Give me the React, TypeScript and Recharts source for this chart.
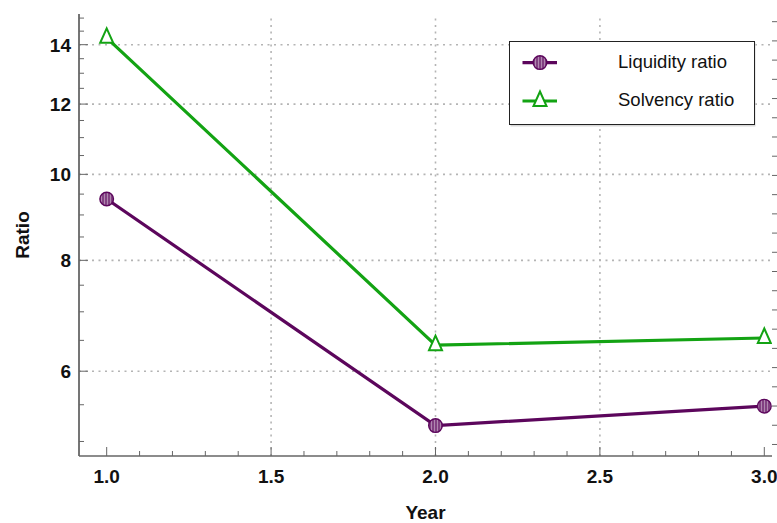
import React from 'react';
import { LineChart, Line, XAxis, YAxis, ReferenceLine, Legend } from 'recharts';

const years = [1, 2, 3];
const liquidity = [9.38, 5.21, 5.48];
const solvency = [14.25, 6.42, 6.54];

const xMajor = [1, 1.5, 2, 2.5, 3];
const xTicks = [1, 1.1, 1.2, 1.3, 1.4, 1.5, 1.6, 1.7, 1.8, 1.9, 2, 2.1, 2.2, 2.3, 2.4, 2.5, 2.6, 2.7, 2.8, 2.9, 3];
const xGrid = [1.5, 2, 2.5];
const yMajor = [6, 8, 10, 12, 14];
const yTicks = [5, 5.5, 6, 6.5, 7, 7.5, 8, 8.5, 9, 9.5, 10, 10.5, 11, 11.5, 12, 12.5, 13, 13.5, 14, 14.5, 15];
const rightTicks = [1, 2, 3, 4, 5, 6, 7, 8, 9, 10, 11, 12, 13, 14, 15, 16, 17, 18, 19, 20, 21, 22, 23];

const data = years.map((year, i) => ({ year, liquidity: liquidity[i], solvency: solvency[i] }));

const PURPLE = '#5c065c';
const GREEN = '#13a313';
const AXIS = '#666';
const FONT = '"Liberation Sans", Arial, sans-serif';

const isMajor = (list: number[], v: number) => list.some((m) => Math.abs(m - v) < 1e-6);

const BottomTick = (props: any) => {
  const { x, y, payload } = props;
  const major = isMajor(xMajor, payload.value);
  return (
    <g>
      <line x1={x} y1={y} x2={x} y2={y - (major ? 9 : 5)} stroke={AXIS} strokeWidth={1} />
      {major && (
        <text x={x} y={y + 27} textAnchor="middle" fontFamily={FONT} fontWeight="bold" fontSize={19} fill="#111">
          {payload.value.toFixed(1)}
        </text>
      )}
    </g>
  );
};

const TopTick = (props: any) => {
  const { x, y, payload } = props;
  const major = isMajor(xMajor, payload.value);
  return <line x1={x} y1={y} x2={x} y2={y + (major ? 9 : 5)} stroke={AXIS} strokeWidth={1} />;
};

const LeftTick = (props: any) => {
  const { x, y, payload } = props;
  const major = isMajor(yMajor, payload.value);
  return (
    <g>
      <line x1={x} y1={y} x2={x + (major ? 9 : 5)} y2={y} stroke={AXIS} strokeWidth={1} />
      {major && (
        <text x={x - 8} y={y} dy="0.36em" textAnchor="end" fontFamily={FONT} fontWeight="bold" fontSize={19} fill="#111">
          {payload.value}
        </text>
      )}
    </g>
  );
};

const RightTick = (props: any) => {
  const { x, y } = props;
  return <line x1={x} y1={y} x2={x + 5.5} y2={y} stroke={AXIS} strokeWidth={1} />;
};

const CircleDot = (props: any) => {
  const { cx, cy, index } = props;
  if (cx == null || cy == null) return <g key={index} />;
  return <circle key={index} cx={cx} cy={cy} r={6.8} fill="url(#hatch)" stroke={PURPLE} strokeWidth={1.4} />;
};

const triPath = (cx: number, cy: number) =>
  `M${cx},${cy - 9.5} L${cx - 6.5},${cy + 5} L${cx + 6.5},${cy + 5} Z`;

const TriangleDot = (props: any) => {
  const { cx, cy, index } = props;
  if (cx == null || cy == null) return <g key={index} />;
  return <path key={index} d={triPath(cx, cy)} fill="#fff" stroke={GREEN} strokeWidth={2} />;
};

const RatioLabel = (props: any) => {
  const { viewBox } = props;
  const cy = viewBox.y + viewBox.height / 2;
  return (
    <text
      x={29}
      y={cy}
      transform={`rotate(-90 29 ${cy})`}
      textAnchor="middle"
      fontFamily={FONT}
      fontWeight="bold"
      fontSize={19}
      fill="#111"
    >
      Ratio
    </text>
  );
};

const LegendBox = () => (
  <svg width={247} height={86} style={{ display: 'block' }}>
    <rect x={1.5} y={1.5} width={245} height={84} fill="#d8d8d8" />
    <rect x={0.5} y={0.5} width={245} height={83} fill="#fff" stroke="#222" strokeWidth={1} />
    <line x1={13.5} y1={21.6} x2={48} y2={21.6} stroke={PURPLE} strokeWidth={3.2} />
    <circle cx={31} cy={21.6} r={6.8} fill="url(#hatch)" stroke={PURPLE} strokeWidth={1.4} />
    <text x={109} y={26.5} fontFamily={FONT} fontSize={18.5} fill="#111">
      Liquidity ratio
    </text>
    <line x1={13.5} y1={60} x2={48} y2={60} stroke={GREEN} strokeWidth={3.2} />
    <path d={triPath(31, 60)} fill="#fff" stroke={GREEN} strokeWidth={2} />
    <text x={109} y={64.5} fontFamily={FONT} fontSize={18.5} fill="#111">
      Solvency ratio
    </text>
  </svg>
);

export default function App() {
  return (
    <div style={{ position: 'absolute', left: 0, top: 0, width: 777, height: 523, background: '#fff' }}>
      <LineChart width={777} height={523} data={data} margin={{ top: 14, right: 0, bottom: 0, left: 0 }}>
        <defs>
          <pattern id="hatch" width={3} height={3} patternUnits="userSpaceOnUse">
            <rect width={3} height={3} fill="#b087b0" />
            <line x1={1} y1={0} x2={1} y2={3} stroke={PURPLE} strokeWidth={1.1} />
          </pattern>
        </defs>
        <XAxis
          dataKey="year"
          type="number"
          domain={[0.9158, 3.0234]}
          allowDataOverflow
          ticks={xTicks}
          interval={0}
          tickSize={0}
          tickMargin={0}
          height={67}
          axisLine={{ stroke: AXIS, strokeWidth: 1.4 }}
          tick={<BottomTick />}
          label={{ value: 'Year', position: 'insideBottom', offset: 4, fontFamily: FONT, fontWeight: 'bold', fontSize: 19, fill: '#111' }}
        />
        <XAxis
          xAxisId="top"
          orientation="top"
          dataKey="year"
          type="number"
          domain={[0.9158, 3.0234]}
          allowDataOverflow
          ticks={xTicks}
          interval={0}
          tickSize={0}
          tickMargin={0}
          height={0}
          axisLine={{ stroke: '#444', strokeWidth: 1.2 }}
          tick={<TopTick />}
        />
        <YAxis
          type="number"
          scale="log"
          domain={[4.815, 15.16]}
          allowDataOverflow
          ticks={yTicks}
          interval={0}
          tickSize={0}
          tickMargin={0}
          width={79}
          axisLine={{ stroke: AXIS, strokeWidth: 1.8 }}
          tick={<LeftTick />}
          label={<RatioLabel />}
        />
        <YAxis
          yAxisId="r"
          orientation="right"
          type="number"
          domain={[0.4, 23.4]}
          allowDataOverflow
          ticks={rightTicks}
          interval={0}
          tickSize={0}
          tickMargin={0}
          width={5}
          axisLine={false}
          tick={<RightTick />}
        />
        {yMajor.map((v) => (
          <ReferenceLine key={'h' + v} y={v} stroke="#b4b4b4" strokeWidth={1.6} strokeDasharray="2 4.5" />
        ))}
        {xGrid.map((v) => (
          <ReferenceLine key={'v' + v} x={v} stroke="#b4b4b4" strokeWidth={1.6} strokeDasharray="2 4.5" />
        ))}
        <Legend
          layout="vertical"
          align="center"
          verticalAlign="middle"
          wrapperStyle={{ left: 509, top: 41, width: 247, height: 86 }}
          content={<LegendBox />}
        />
        <Line
          dataKey="liquidity"
          stroke={PURPLE}
          strokeWidth={3.2}
          dot={<CircleDot />}
          activeDot={false}
          isAnimationActive={false}
        />
        <Line
          dataKey="solvency"
          stroke={GREEN}
          strokeWidth={3.2}
          dot={<TriangleDot />}
          activeDot={false}
          isAnimationActive={false}
        />
      </LineChart>
    </div>
  );
}
